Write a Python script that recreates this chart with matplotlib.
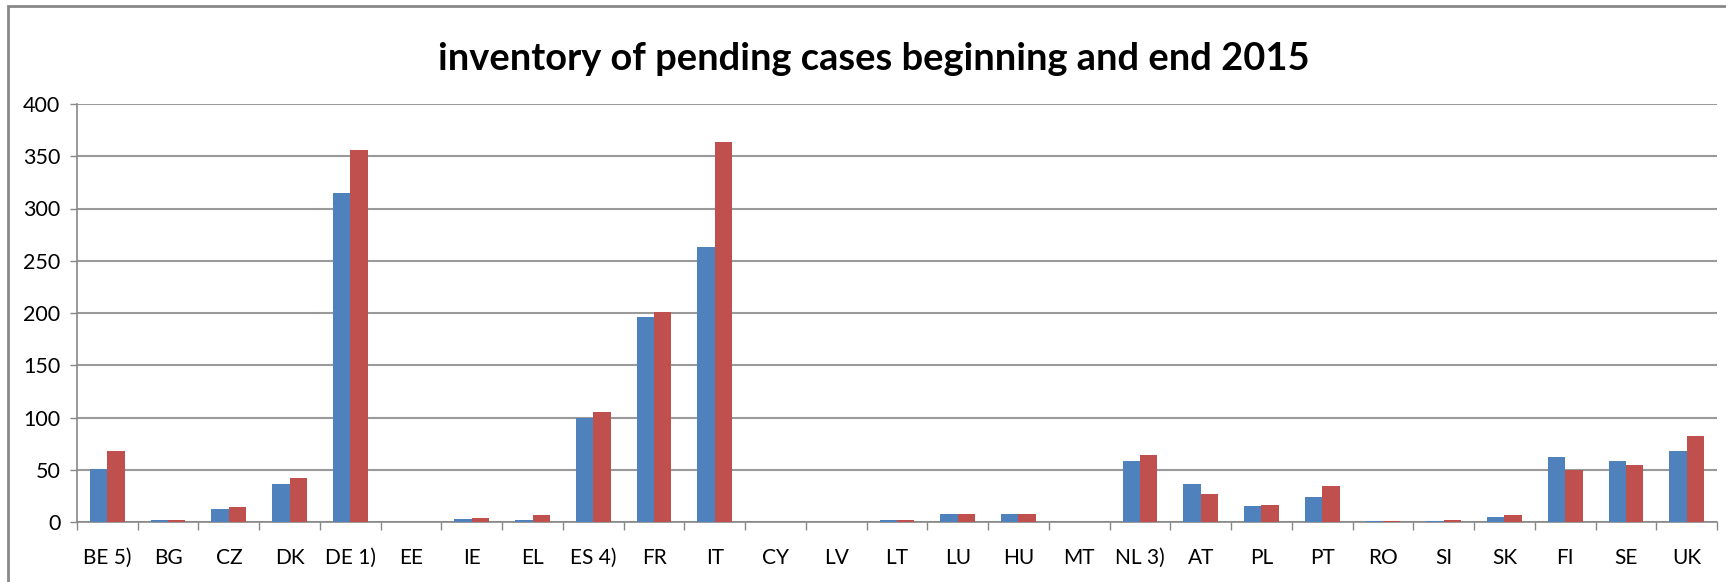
import numpy as np
import matplotlib.pyplot as plt
from matplotlib.patches import Rectangle

countries = ['BE 5)', 'BG', 'CZ', 'DK', 'DE 1)', 'EE', 'IE', 'EL', 'ES 4)', 'FR', 'IT',
             'CY', 'LV', 'LT', 'LU', 'HU', 'MT', 'NL 3)', 'AT', 'PL', 'PT', 'RO', 'SI',
             'SK', 'FI', 'SE', 'UK']
begin_2015 = [51, 2, 12, 36, 315, 0, 3, 2, 100, 196, 263,
              0, 0, 2, 8, 8, 0, 58, 36, 15, 24, 1, 1,
              5, 62, 58, 68]
end_2015 = [68, 2, 14, 42, 356, 0, 4, 7, 105, 201, 364,
            0, 0, 2, 8, 8, 0, 64, 27, 16, 34, 1, 2,
            7, 50, 55, 82]
yticks = np.arange(0, 401, 50)

plt.rcParams['font.family'] = ['Lato', 'DejaVu Sans']
fig = plt.figure(figsize=(17.26, 5.82), dpi=100)
ax = fig.add_axes([77/1726, 1-522/582, (1717-77)/1726, (522-104)/582])

x = np.arange(len(countries))
w = 0.286
ax.bar(x - w/2, begin_2015, w, color='#4F81BD', zorder=3)
ax.bar(x + w/2, end_2015, w, color='#C0504D', zorder=3)

ax.set_xlim(-0.5, len(countries) - 0.5)
ax.set_ylim(0, 400)
ax.set_yticks(yticks)
ax.set_yticklabels([str(v) for v in yticks], fontsize=15.5)
ax.yaxis.grid(True, color='#9a9a9a', linewidth=1.5, zorder=0)
ax.set_xticks(x)
ax.set_xticklabels(countries, fontsize=15, va='baseline')
ax.set_xticks(np.arange(-0.5, len(countries)), minor=True)
ax.tick_params(axis='x', which='major', length=0, pad=30)
ax.tick_params(axis='x', which='minor', length=6, color='#888888', width=1)
ax.tick_params(axis='y', length=5, color='#888888', width=1, pad=7)

for s in ['top', 'right']:
    ax.spines[s].set_visible(False)
for s in ['left', 'bottom']:
    ax.spines[s].set_color('#888888')
    ax.spines[s].set_linewidth(1.2)

fig.text(874/1726, 1-70/582, 'inventory of pending cases beginning and end 2015',
         ha='center', va='baseline', fontsize=27.4, fontweight='bold')

fig.patches.append(Rectangle((8/1726, -0.1), 1.2, 1-6/582+0.1, transform=fig.transFigure,
                             fill=False, edgecolor='#888888', linewidth=2))

plt.savefig('out.png', dpi=100)
